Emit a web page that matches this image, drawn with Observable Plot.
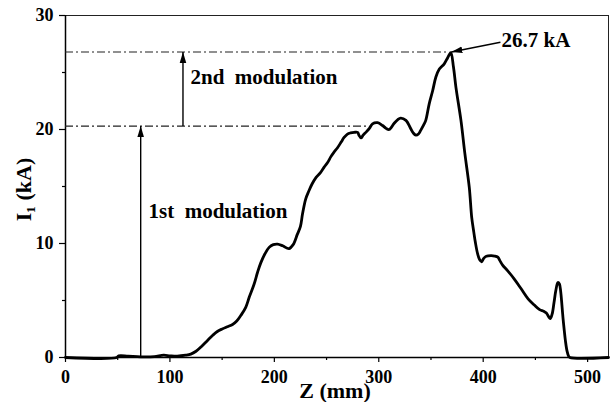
<!DOCTYPE html>
<html><head><meta charset="utf-8">
<script src="https://cdn.jsdelivr.net/npm/d3@7"></script>
<script src="https://cdn.jsdelivr.net/npm/@observablehq/plot@0.6"></script>
<style>body{margin:0;background:#fff;}</style>
</head><body><div id="chart"></div>
<script>
// Curve: axial position Z (mm) vs current I1 (kA)
const zMM = [0, 49, 51, 60, 72, 85, 94, 100, 107, 115, 120, 125, 130, 136, 141, 145.4, 150, 155, 160, 164, 168, 172.6, 176, 180.5, 184, 187, 191, 195, 199, 203, 208, 214, 218, 222, 225, 227, 230, 233, 236, 240, 244, 247.7, 251, 254, 257, 260.5, 264, 266.8, 270, 273, 276.4, 279.7, 281, 283, 285, 287.6, 291, 294, 298.9, 303.6, 307, 310, 314.8, 318, 321, 326, 330.8, 333, 335.6, 338, 340, 343, 345, 348.3, 351.6, 354.7, 358, 362.7, 366, 369, 371.5, 373.9, 378.7, 382.5, 386.7, 389, 391, 392.5, 394.7, 396.5, 398.6, 400.5, 403, 407.5, 411, 414, 416, 418.6, 423.5, 429.8, 436.2, 443, 449, 454, 458, 460.5, 462.5, 464.3, 466, 467.8, 469.6, 471.5, 473, 474.2, 475.4, 476.4, 477.6, 478.7, 480.2, 481.8, 483, 520];
const currentKA = [0, 0, 0.15, 0.12, 0.06, 0.08, 0.2, 0.15, 0.12, 0.2, 0.3, 0.55, 0.95, 1.5, 1.95, 2.28, 2.5, 2.7, 2.9, 3.2, 3.7, 4.4, 5.3, 6.4, 7.5, 8.3, 9.1, 9.66, 9.9, 9.95, 9.8, 9.55, 9.9, 10.8, 11.5, 12.6, 13.9, 14.6, 15.2, 15.8, 16.2, 16.7, 17.1, 17.6, 18.0, 18.4, 18.9, 19.3, 19.6, 19.7, 19.75, 19.75, 19.5, 19.26, 19.5, 19.75, 20.1, 20.5, 20.6, 20.35, 20.1, 20.0, 20.55, 20.85, 21.0, 20.8, 20.05, 19.7, 19.5, 19.6, 19.9, 20.4, 20.8, 22.25, 23.4, 24.6, 25.3, 25.76, 26.3, 26.75, 25.5, 23.7, 20.8, 17.86, 14.9, 12.3, 11.0, 10.1, 9.08, 8.6, 8.4, 8.7, 8.88, 8.93, 8.9, 8.8, 8.5, 8.1, 7.6, 6.88, 6.05, 5.15, 4.6, 4.2, 4.05, 3.9, 3.6, 3.42, 3.8, 4.8, 5.9, 6.58, 6.45, 5.8, 4.6, 3.5, 2.4, 1.5, 0.6, 0.12, 0, 0];

// Axis ticks
const xMajorTicks = [0, 100, 200, 300, 400, 500];
const xMinorTicks = [50, 150, 250, 350, 450];
const yMajorTicks = [0, 10, 20, 30];
const yMinorTicks = [5, 15, 25];

// Modulation reference levels (dash-dot lines)
const levelI = [20.3, 26.8];
const levelEndZ = [290, 368];

// Arrows
const arrowFromZ = [72, 112.5, 416.5];
const arrowFromI = [0, 20.3, 27.65];
const arrowToZ = [72, 112.5, 369.5];
const arrowToI = [20.3, 26.8, 26.8];

// Annotation labels
const noteText = ["1st\u00a0 modulation", "2nd\u00a0 modulation", "26.7 kA"];
const noteZ = [79.5, 119.7, 417.5];
const noteI = [12.2, 24.0, 27.2];

const curve = zMM.map((z, i) => ({z, I: currentKA[i]}));
const levels = levelI.map((I, i) => ({I, end: levelEndZ[i]}));
const arrows = arrowFromZ.map((z, i) => ({x1: z, y1: arrowFromI[i], x2: arrowToZ[i], y2: arrowToI[i]}));
const notes = noteText.map((t, i) => ({t, z: noteZ[i], I: noteI[i]}));

const font = "'Liberation Serif', 'Times New Roman', serif";
const chart = Plot.plot({
  width: 616, height: 402,
  marginLeft: 65, marginRight: 8, marginTop: 15, marginBottom: 45,
  x: {domain: [0, 520]},
  y: {domain: [0, 30]},
  style: {fontFamily: font, fontWeight: "bold", fontSize: "18px", color: "#000", background: "#fff", overflow: "visible"},
  marks: [
    Plot.frame({stroke: "#222", strokeWidth: 1}),
    Plot.axisX(xMajorTicks, {tickSize: 5, tickPadding: 8, label: null, strokeWidth: 1.2}),
    Plot.axisX(xMinorTicks, {tickSize: 3, tickFormat: () => "", label: null, strokeWidth: 1.2}),
    Plot.axisY(yMajorTicks, {tickSize: 6, tickPadding: 6, label: null, strokeWidth: 1.2}),
    Plot.axisY(yMinorTicks, {tickSize: 3, tickFormat: () => "", label: null, strokeWidth: 1.2}),
    Plot.ruleX([0], {strokeWidth: 1.5}),
    Plot.ruleY([0], {strokeWidth: 1.5}),
    Plot.ruleY(levels, {y: "I", x1: 0, x2: "end", stroke: "#222", strokeWidth: 1.1, strokeDasharray: "8,3,2,3"}),
    Plot.line(curve, {x: "z", y: "I", strokeWidth: 2.8, curve: "catmull-rom"}),
    Plot.link(arrows, {x1: "x1", y1: "y1", x2: "x2", y2: "y2", markerEnd: "arrow", strokeWidth: 1.4}),
    Plot.text(notes, {x: "z", y: "I", text: "t", textAnchor: "start", lineAnchor: "bottom", fontSize: 21}),
    Plot.text(["I\u2081 (kA)"], {frameAnchor: "left", textAnchor: "middle", lineAnchor: "middle", rotate: -90, dx: -42, dy: 3, fontSize: 22}),
    Plot.text(["Z (mm)"], {frameAnchor: "bottom", textAnchor: "middle", lineAnchor: "bottom", dx: -2, dy: 40, fontSize: 22})
  ]
});
// filled arrowheads
chart.querySelectorAll("marker").forEach(m => {
  const c = m.getAttribute("stroke") || "currentColor";
  m.setAttribute("viewBox", "-11 -4 11 8");
  m.setAttribute("markerWidth", 11);
  m.setAttribute("markerHeight", 8);
  m.setAttribute("markerUnits", "userSpaceOnUse");
  m.setAttribute("stroke", "none");
  m.setAttribute("fill", c);
  m.innerHTML = "";
  const p = document.createElementNS("http://www.w3.org/2000/svg", "path");
  p.setAttribute("d", "M-11,-3.3L0,0L-11,3.3Z");
  m.appendChild(p);
});
document.getElementById("chart").appendChild(chart);
</script>
</body></html>
